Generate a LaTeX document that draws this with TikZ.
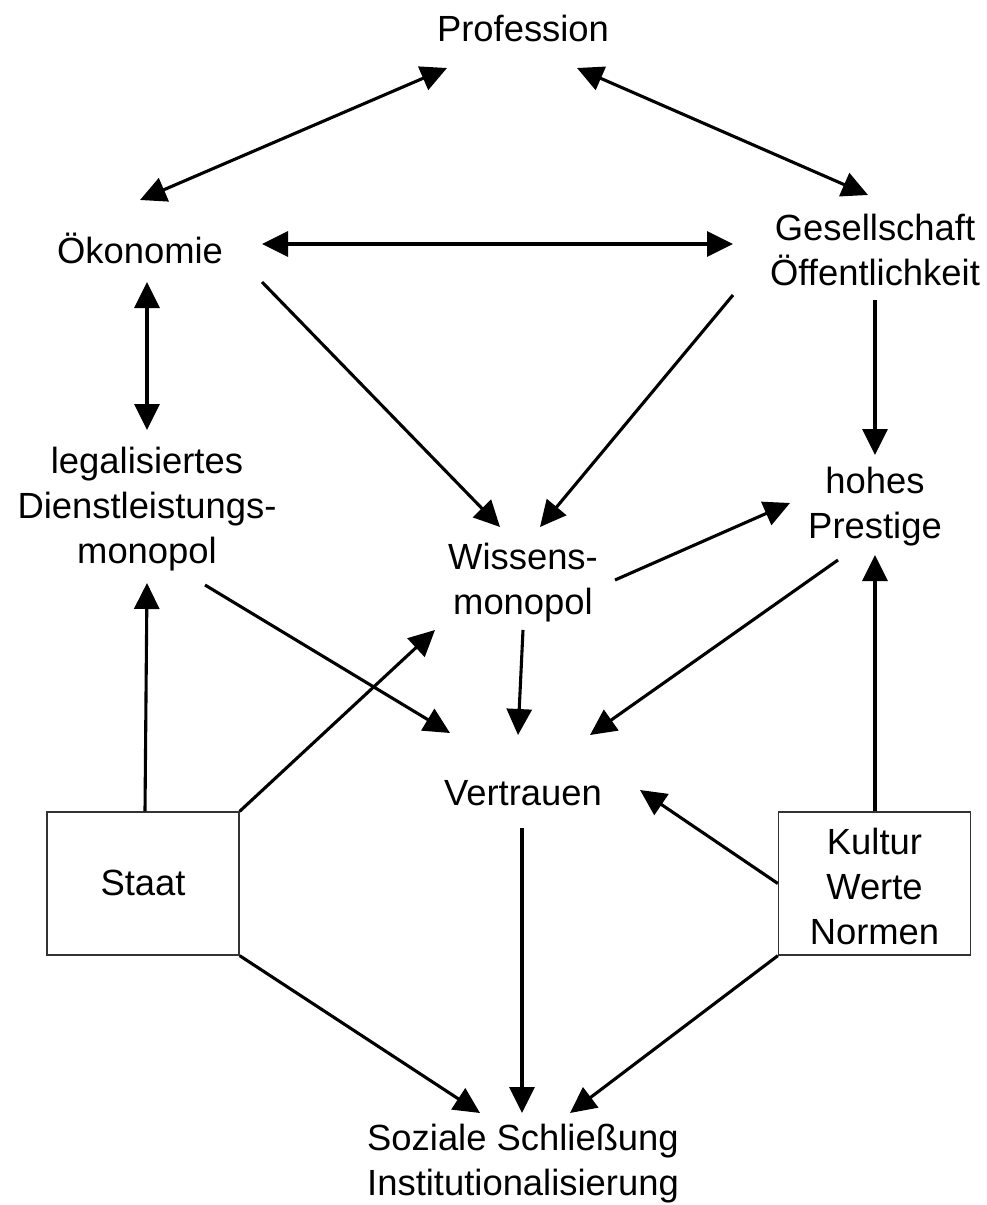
\documentclass[tikz,border=0pt]{standalone}
\usepackage{fontspec}
\setmainfont{Liberation Sans}
\usetikzlibrary{arrows.meta}
\begin{document}
\begin{tikzpicture}[x=1pt,y=-1pt,
  lbl/.style={inner sep=0pt,align=center,font=\fontsize{36.4}{45}\selectfont},
  boxn/.style={draw=black!80,line width=1.3pt,minimum width=192pt,minimum height=143pt,inner sep=0pt},
  arr/.style={line width=3.1pt,-{Triangle[length=26pt,width=25pt]}},
  darr/.style={line width=3.1pt,{Triangle[length=26pt,width=25pt]}-{Triangle[length=26pt,width=25pt]}}]
\useasboundingbox (0,0) rectangle (986,1205);
\node[lbl] (prof) at (523,28) {Profession};
\node[lbl] (oek) at (140,248) {Ökonomie};
\node[lbl] (ges) at (875,250) {Gesellschaft\\Öffentlichkeit};
\node[lbl] (leg) at (147,509) {legalisiertes\\Dienstleistungs-\\monopol};
\node[lbl] (wis) at (523,583) {Wissens-\\monopol};
\node[lbl] (pre) at (875,507) {hohes\\Prestige};
\node[lbl] (ver) at (523,793) {Vertrauen};
\node[boxn] (staat) at (143,883.5) {};
\node[lbl] (staattxt) at (143,883) {Staat};
\node[boxn] (kul) at (874.5,883.5) {};
\node[lbl] (kultxt) at (874.5,886) {Kultur\\Werte\\Normen};
\node[lbl] (soz) at (523,1164) {Soziale Schließung\\Institutionalisierung};

\draw[darr] ([shift={(-76,40)}]prof.center) -- ([shift={(0,-48)}]oek.center);
\draw[darr] ([shift={(54,40)}]prof.center) -- ([shift={(-7,-55)}]ges.center);
\draw[darr] ([shift={(122,-4)}]oek.center) -- ([shift={(-142,-6)}]ges.center);
\draw[darr] ([shift={(7,34)}]oek.center) -- ([shift={(0,-79)}]leg.center);
\draw[arr] ([shift={(122,34)}]oek.center) -- ([shift={(-23,-56)}]wis.center);
\draw[arr] ([shift={(-142,45)}]ges.center) -- ([shift={(17,-56)}]wis.center);
\draw[arr] ([shift={(0,50)}]ges.center) -- ([shift={(0,-52)}]pre.center);
\draw[arr] ([shift={(92,-3)}]wis.center) -- ([shift={(-85,-4)}]pre.center);
\draw[arr] ([shift={(58,76)}]leg.center) -- ([shift={(-73,-60)}]ver.center);
\draw[arr] ([shift={(0,47)}]wis.center) -- ([shift={(-5,-58)}]ver.center);
\draw[arr] ([shift={(-37,53)}]pre.center) -- ([shift={(67,-58)}]ver.center);
\draw[arr] ([xshift=2pt]staat.north) -- ([shift={(0,74)}]leg.center);
\draw[arr] (staat.north east) -- ([shift={(-88,47)}]wis.center);
\draw[arr] ([xshift=0.5pt]kul.north) -- ([shift={(0,48)}]pre.center);
\draw[arr] (kul.west) -- ([shift={(117,-3)}]ver.center);
\draw[arr] (staat.south east) -- ([shift={(-43,-51)}]soz.center);
\draw[arr] ([shift={(-1,35)}]ver.center) -- ([shift={(-1,-51)}]soz.center);
\draw[arr] (kul.south west) -- ([shift={(47,-51)}]soz.center);
\end{tikzpicture}
\end{document}
